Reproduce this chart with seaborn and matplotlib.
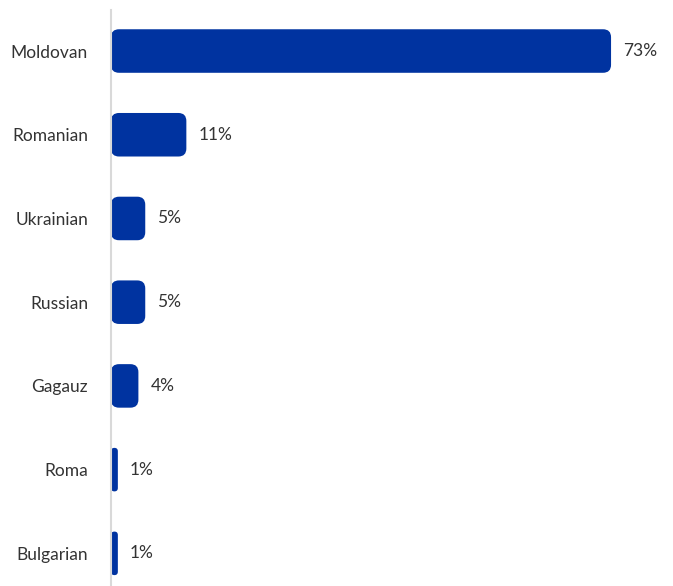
import matplotlib
matplotlib.use("Agg")
import matplotlib.pyplot as plt
import seaborn as sns
import pandas as pd
from matplotlib.patches import FancyBboxPatch

categories = ["Moldovan", "Romanian", "Ukrainian", "Russian", "Gagauz", "Roma", "Bulgarian"]
values = [73, 11, 5, 5, 4, 1, 1]
value_labels = ["73%", "11%", "5%", "5%", "4%", "1%", "1%"]

sns.set_theme(style="white")
plt.rcParams['font.family'] = ['Lato', 'DejaVu Sans']

df = pd.DataFrame({"group": categories, "value": values})

fig = plt.figure(figsize=(6.73, 5.86), dpi=100)
ax = fig.add_axes([111/673, 0, 1 - 111/673, 1 - 10/586])
color = "#0033a0"
sns.barplot(data=df, x="value", y="group", orient="h", color=color, width=0.52,
            saturation=1, ax=ax)

ax.set_xlim(0, 562/6.85)
ax.set_ylim(6.39, -0.49)

# replace bars with rounded ones
px_x = 6.85
px_y = 586*(1-10/586) / (6.39+0.49)
rpx = 8
for p in list(ax.patches):
    x, y = p.get_x(), p.get_y()
    w, h = p.get_width(), p.get_height()
    r = min(rpx/px_x, w/2*0.999)
    fb = FancyBboxPatch((x, y), w, h,
                        boxstyle=f"round,pad=0,rounding_size={r}",
                        mutation_aspect=(px_x/px_y),
                        fc=color, ec="none")
    p.remove()
    ax.add_patch(fb)

for i, (v, lab) in enumerate(zip(values, value_labels)):
    ax.text(v + 12/px_x, i, lab, va="center", ha="left", fontsize=12.5,
            color="#333333")

ax.set_xlabel("")
ax.set_ylabel("")
ax.set_xticks([])
ax.tick_params(axis="y", length=0, pad=16.5, labelsize=12.5, labelcolor="#333333")
for s in ["top", "right", "bottom"]:
    ax.spines[s].set_visible(False)
ax.spines["left"].set_color("#d9d9d9")
ax.spines["left"].set_linewidth(1.5)

fig.savefig("out.png", dpi=100)
